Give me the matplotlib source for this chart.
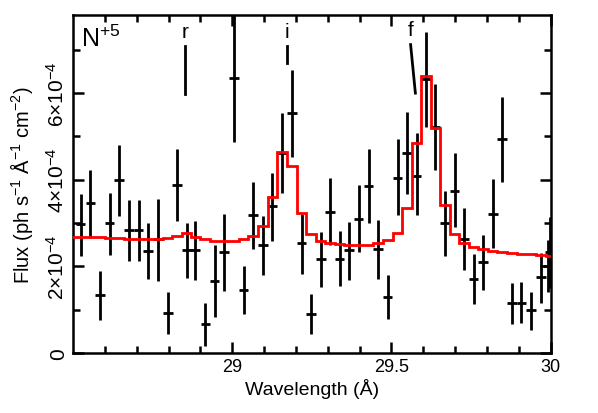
import matplotlib
matplotlib.use('Agg')
import matplotlib.pyplot as plt
import numpy as np

plt.rcParams['font.family'] = 'Liberation Sans'
plt.rcParams['mathtext.fontset'] = 'custom'
plt.rcParams['mathtext.rm'] = 'Liberation Sans'
plt.rcParams['mathtext.it'] = 'Liberation Sans:italic'

# data (flux in units of 1e-4 ph/s/A/cm2)
wave = [28.524, 28.555, 28.585, 28.615, 28.645, 28.676, 28.706, 28.736, 28.767, 28.798,
        28.827, 28.857, 28.884, 28.916, 28.945, 28.975, 29.005, 29.036, 29.066, 29.096,
        29.126, 29.156, 29.187, 29.218, 29.247, 29.278, 29.307, 29.337, 29.367, 29.397,
        29.428, 29.458, 29.488, 29.519, 29.549, 29.579, 29.609, 29.638, 29.668, 29.698,
        29.728, 29.758, 29.788, 29.818, 29.847, 29.879, 29.908, 29.938, 29.969, 29.990,
        29.998]
flux = [2.97, 3.47, 1.33, 2.99, 3.99, 2.83, 2.83, 2.36, 2.62, 0.93,
        3.87, 2.37, 2.37, 0.66, 1.66, 2.33, 6.34, 1.46, 3.18, 2.49,
        3.39, 4.62, 5.53, 2.53, 0.91, 2.16, 3.25, 2.18, 2.37, 3.10,
        3.85, 2.39, 1.29, 4.05, 4.62, 4.08, 6.32, 5.22, 2.99, 3.75,
        2.63, 1.70, 2.09, 3.22, 4.93, 1.15, 1.15, 0.99, 1.75, 2.01,
        2.32]
flux_hi = [3.66, 4.22, 1.89, 3.70, 4.80, 3.53, 3.54, 2.99, 3.55, 1.41,
           4.70, 3.01, 3.05, 1.15, 2.49, 3.22, 7.80, 2.01, 3.94, 3.16,
           4.16, 5.55, 6.53, 3.22, 1.37, 2.80, 4.04, 2.82, 3.03, 3.87,
           4.70, 3.07, 1.79, 4.93, 5.56, 5.07, 7.42, 6.22, 3.74, 4.61,
           3.35, 2.28, 2.72, 4.01, 5.92, 1.62, 1.64, 1.41, 2.31, 2.60,
           3.15]
flux_lo = [2.24, 2.66, 0.77, 2.26, 3.16, 2.12, 2.12, 1.70, 1.66, 0.44,
           3.05, 1.72, 1.68, 0.17, 0.83, 1.43, 4.88, 0.89, 2.41, 1.79,
           2.58, 3.70, 4.52, 1.83, 0.44, 1.52, 2.49, 1.54, 1.69, 2.33,
           2.99, 1.70, 0.79, 3.18, 3.68, 3.18, 5.22, 4.22, 2.23, 2.90,
           1.92, 1.12, 1.45, 2.43, 3.95, 0.68, 0.69, 0.52, 1.15, 1.40,
           1.49]
bin_half = 0.015

# model (red histogram), one value per bin
model_wave = wave[:49] + [29.999]
model = [2.68, 2.68, 2.67, 2.66, 2.65, 2.64, 2.63, 2.63, 2.63, 2.65,
         2.71, 2.76, 2.68, 2.63, 2.59, 2.59, 2.59, 2.62, 2.71, 2.93,
         3.61, 4.63, 4.32, 3.24, 2.74, 2.58, 2.53, 2.51, 2.50, 2.50,
         2.50, 2.53, 2.60, 2.78, 3.34, 4.84, 6.39, 5.19, 3.41, 2.74,
         2.53, 2.45, 2.40, 2.36, 2.34, 2.31, 2.29, 2.28, 2.26, 2.24]

# line ids: label, x at label, x at line bottom, line top, line bottom
line_names = ['r', 'i', 'f']
line_x_top = [28.852, 29.172, 29.560]
line_x_bot = [28.852, 29.172, 29.575]
line_y_top = [7.09, 7.09, 7.12]
line_y_bot = [5.97, 6.69, 6.00]

fig = plt.figure(figsize=(5.98, 4.14), dpi=100)
ax = fig.add_axes([0.122, 0.145, 0.799, 0.816])

w = np.array(wave)
f = np.array(flux)
yerr = [f - np.array(flux_lo), np.array(flux_hi) - f]
ax.errorbar(w, f, xerr=bin_half, yerr=yerr, fmt='none', ecolor='black',
            elinewidth=2.0, capsize=0, zorder=2)

mw = np.array(model_wave)
edges = np.concatenate([[28.49], (mw[:-1] + mw[1:]) / 2, [30.02]])
ax.stairs(model, edges, color='red', linewidth=2.0, baseline=None, zorder=3)

for name, xt, xb, yt, yb in zip(line_names, line_x_top, line_x_bot, line_y_top, line_y_bot):
    ax.plot([xt, xb], [yt, yb], color='black', lw=2.0)
    ax.text(xt, yt + 0.12, name, ha='center', va='bottom', fontsize=15)

ax.text(28.525, 7.28, 'N$^{+5}$', fontsize=18, ha='left', va='center')

ax.set_xlim(28.5, 30)
ax.set_ylim(0, 7.8)
ax.set_xticks([29, 29.5, 30])
ax.set_xticklabels(['29', '29.5', '30'])
ax.set_xticks(np.arange(28.6, 30.0, 0.1), minor=True)
ax.set_yticks([0, 2, 4, 6])
ax.set_yticklabels(['0', '2×10$^{-4}$', '4×10$^{-4}$', '6×10$^{-4}$'],
                   rotation=90, va='center', fontsize=15)
ax.set_yticks([1, 3, 5, 7], minor=True)
ax.tick_params(which='both', direction='in', top=True, right=True, width=1.8)
ax.tick_params(axis='x', labelsize=13)
ax.tick_params(which='major', length=8)
ax.tick_params(which='minor', length=5)
for s in ax.spines.values():
    s.set_linewidth(1.8)

ax.set_xlabel('Wavelength (Å)', fontsize=14, labelpad=2)
ax.set_ylabel('Flux (ph s$^{-1}$ Å$^{-1}$ cm$^{-2}$)', fontsize=14.5, labelpad=8)

fig.savefig('out.png', dpi=100)
